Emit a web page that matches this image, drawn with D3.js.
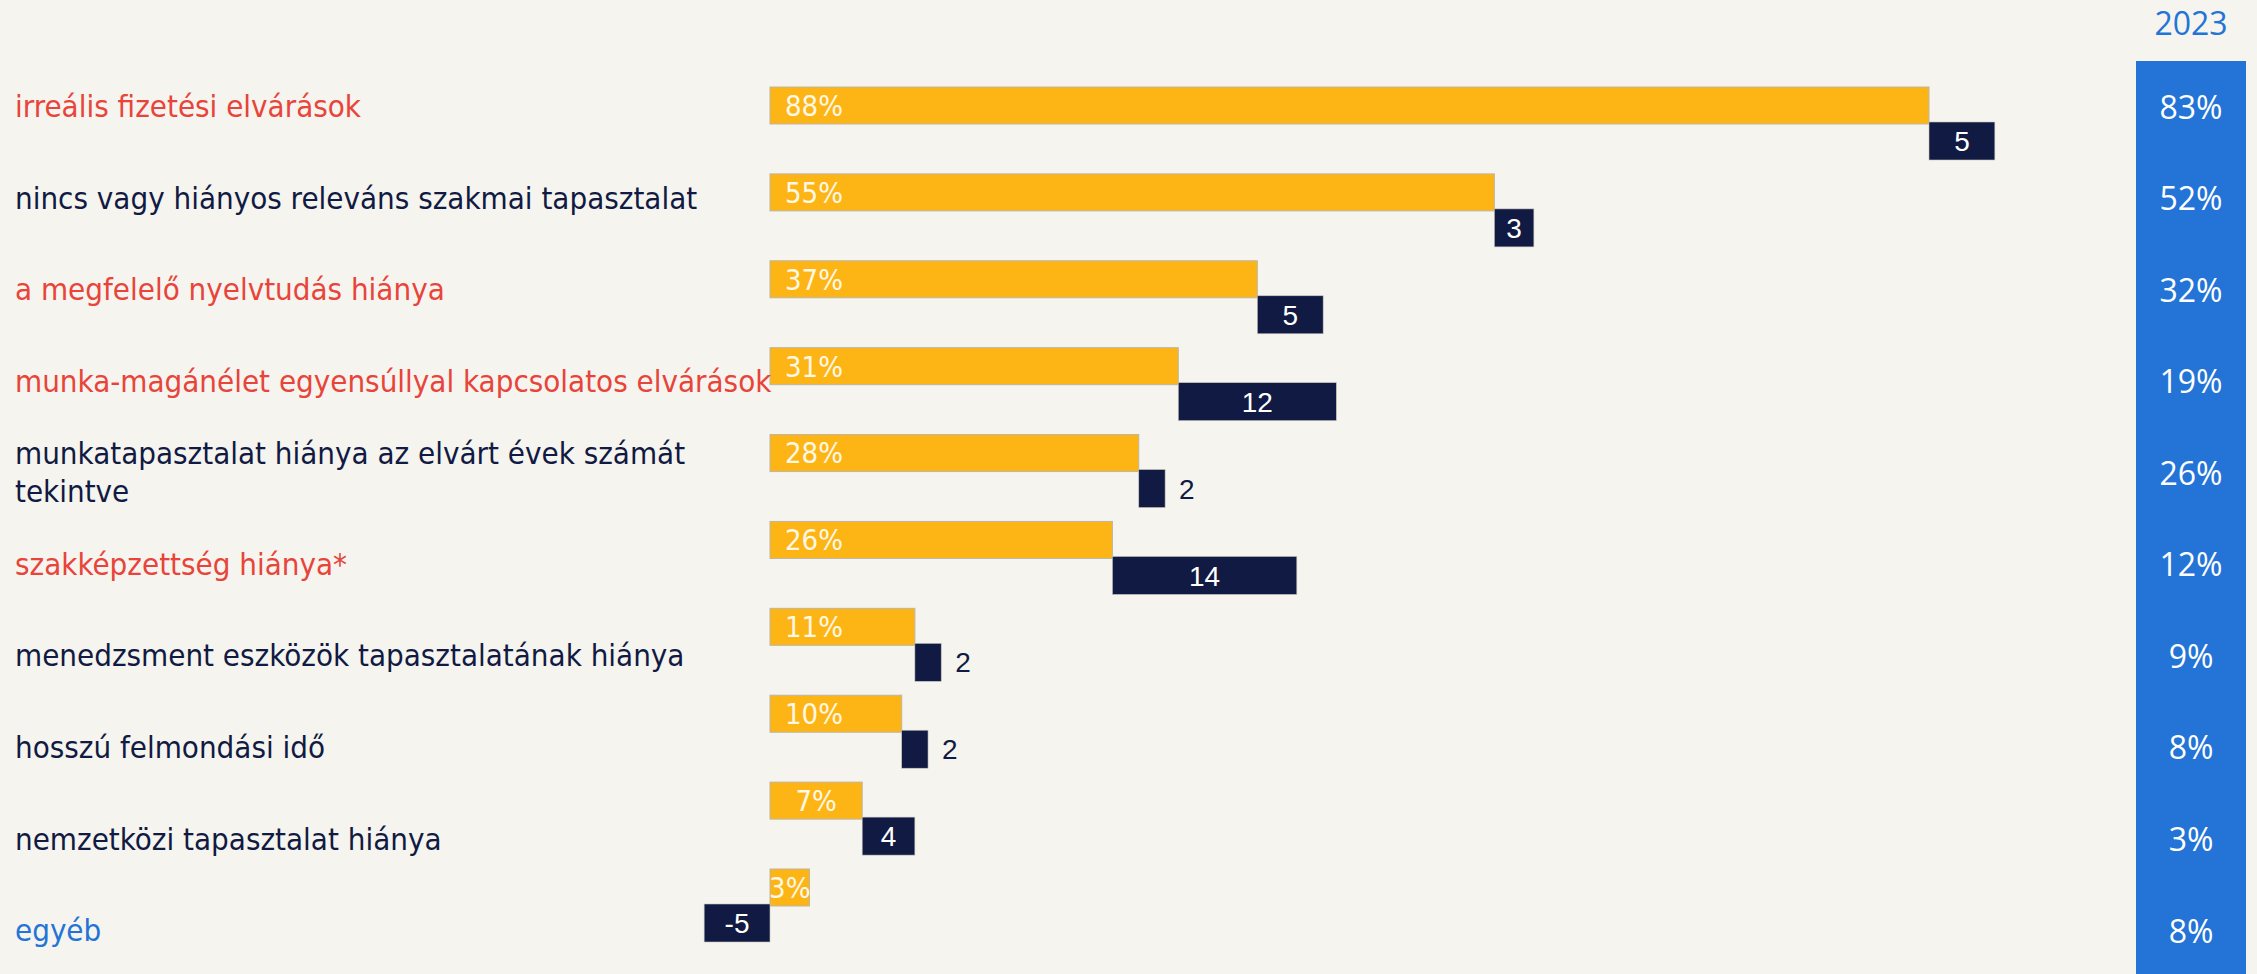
<!DOCTYPE html>
<html lang="hu">
<head>
<meta charset="utf-8">
<script src="https://cdn.jsdelivr.net/npm/d3@7"></script>
<style>
  html, body { margin: 0; padding: 0; background: #f5f4ef; }
  svg { display: block; }
</style>
</head>
<body>
<svg id="chart" width="2257" height="974"></svg>
<script>
// Categories (line break marks where the long label wraps)
const categories = [
  "irreális fizetési elvárások",
  "nincs vagy hiányos releváns szakmai tapasztalat",
  "a megfelelő nyelvtudás hiánya",
  "munka-magánélet egyensúllyal kapcsolatos elvárások",
  "munkatapasztalat hiánya az elvárt évek számát\ntekintve",
  "szakképzettség hiánya*",
  "menedzsment eszközök tapasztalatának hiánya",
  "hosszú felmondási idő",
  "nemzetközi tapasztalat hiánya",
  "egyéb"
];
// Current survey shares (%)
const current = [88, 55, 37, 31, 28, 26, 11, 10, 7, 3];
// 2023 shares (%)
const previous = [83, 52, 32, 19, 26, 12, 9, 8, 3, 8];
// Label colour group per category
const labelGroup = ["red", "dark", "red", "red", "dark", "red", "dark", "dark", "dark", "blue"];
const prevYearLabel = "2023";

const colors = {
  yellow: "#fdb515",
  navy: "#111a42",
  blue: "#2374d6",
  red: "#e8443a",
  dark: "#111a42",
  bg: "#f5f4ef"
};

const change = current.map((v, i) => v - previous[i]);

const svg = d3.select("#chart");

// Horizontal value scale (percentage points)
const x = d3.scaleLinear().domain([0, 88]).range([770, 1929]);
// Bar rows and label rows
const yBar = d3.scalePoint().domain(categories).range([87, 869]);
const yLab = d3.scalePoint().domain(categories).range([106, 930]);

const barH = 37, deltaOffset = 35, deltaH = 38;

// Stacked extent of the change segment: positive changes stack on the
// current share, negative ones stack below zero
const deltaStart = i => change[i] >= 0 ? current[i] : 0;
const deltaEnd = i => deltaStart(i) + change[i];

const rows = svg.append("g").selectAll("g").data(categories).join("g");

// Yellow bars: current share
rows.append("rect")
  .attr("x", x(0))
  .attr("y", d => yBar(d))
  .attr("width", (d, i) => x(current[i]) - x(0))
  .attr("height", barH)
  .attr("fill", colors.yellow)
  .attr("stroke", "#bdb6a6")
  .attr("stroke-width", 1);

// Navy bars: change versus 2023
rows.append("rect")
  .attr("x", (d, i) => Math.min(x(deltaStart(i)), x(deltaEnd(i))))
  .attr("y", d => yBar(d) + deltaOffset)
  .attr("width", (d, i) => Math.abs(x(deltaEnd(i)) - x(deltaStart(i))))
  .attr("height", deltaH)
  .attr("fill", colors.navy)
  .attr("stroke", "#c8c4bb")
  .attr("stroke-width", 0.6);

// Percent labels inside the yellow bars
rows.append("text")
  .attr("x", (d, i) => {
    const w = x(current[i]) - x(0);
    return w < 110 ? x(0) + w / 2 : x(0) + 15;
  })
  .attr("text-anchor", (d, i) => (x(current[i]) - x(0)) < 110 ? "middle" : "start")
  .attr("y", d => yBar(d) + barH / 2)
  .attr("dy", "0.36em")
  .attr("fill", "#fff8e6")
  .style("font-family", "'DejaVu Sans Condensed', 'DejaVu Sans', sans-serif")
  .style("font-size", "29px")
  .text((d, i) => current[i] + "%");

// Change labels: inside wide navy bars, to the right of narrow ones
rows.append("text")
  .each(function (d, i) {
    const x0 = x(deltaStart(i)), x1 = x(deltaEnd(i));
    const w = Math.abs(x1 - x0);
    const t = d3.select(this);
    if (w >= 30) {
      t.attr("x", (x0 + x1) / 2).attr("text-anchor", "middle").attr("fill", "#ffffff");
    } else {
      t.attr("x", Math.max(x0, x1) + 14).attr("text-anchor", "start").attr("fill", colors.dark);
    }
  })
  .attr("y", d => yBar(d) + deltaOffset + deltaH / 2)
  .attr("dy", "0.36em")
  .style("font-family", "'Liberation Sans', Arial, sans-serif")
  .style("font-size", "28px")
  .text((d, i) => change[i]);

// Category labels on the left
const labels = svg.append("g").selectAll("text").data(categories).join("text")
  .attr("x", 15)
  .attr("y", d => yLab(d))
  .attr("fill", (d, i) => colors[labelGroup[i]])
  .style("font-family", "'DejaVu Sans Condensed', 'DejaVu Sans', sans-serif")
  .style("font-size", "31px");

labels.each(function (d) {
  const lines = d.split("\n");
  const lh = 38;
  const t = d3.select(this);
  lines.forEach((line, k) => {
    t.append("tspan")
      .attr("x", 15)
      .attr("y", yLab(d) + (k - (lines.length - 1) / 2) * lh)
      .attr("dy", "0.36em")
      .text(line);
  });
});

// 2023 column
const colX = 2136, colW = 110;
svg.append("rect")
  .attr("x", colX).attr("y", 61)
  .attr("width", colW).attr("height", 974 - 61)
  .attr("fill", colors.blue);

svg.append("text")
  .attr("x", colX + colW / 2).attr("y", 35)
  .attr("text-anchor", "middle")
  .attr("fill", colors.blue)
  .style("font-family", "'Open Sans', 'Noto Sans', sans-serif")
  .style("font-size", "32px")
  .text(prevYearLabel);

svg.append("g").selectAll("text").data(categories).join("text")
  .attr("x", colX + colW / 2)
  .attr("y", d => yLab(d) + 1)
  .attr("dy", "0.36em")
  .attr("text-anchor", "middle")
  .attr("fill", "#ffffff")
  .style("font-family", "'Open Sans', 'Noto Sans', sans-serif")
  .style("font-size", "32px")
  .text((d, i) => previous[i] + "%");
</script>
</body>
</html>
